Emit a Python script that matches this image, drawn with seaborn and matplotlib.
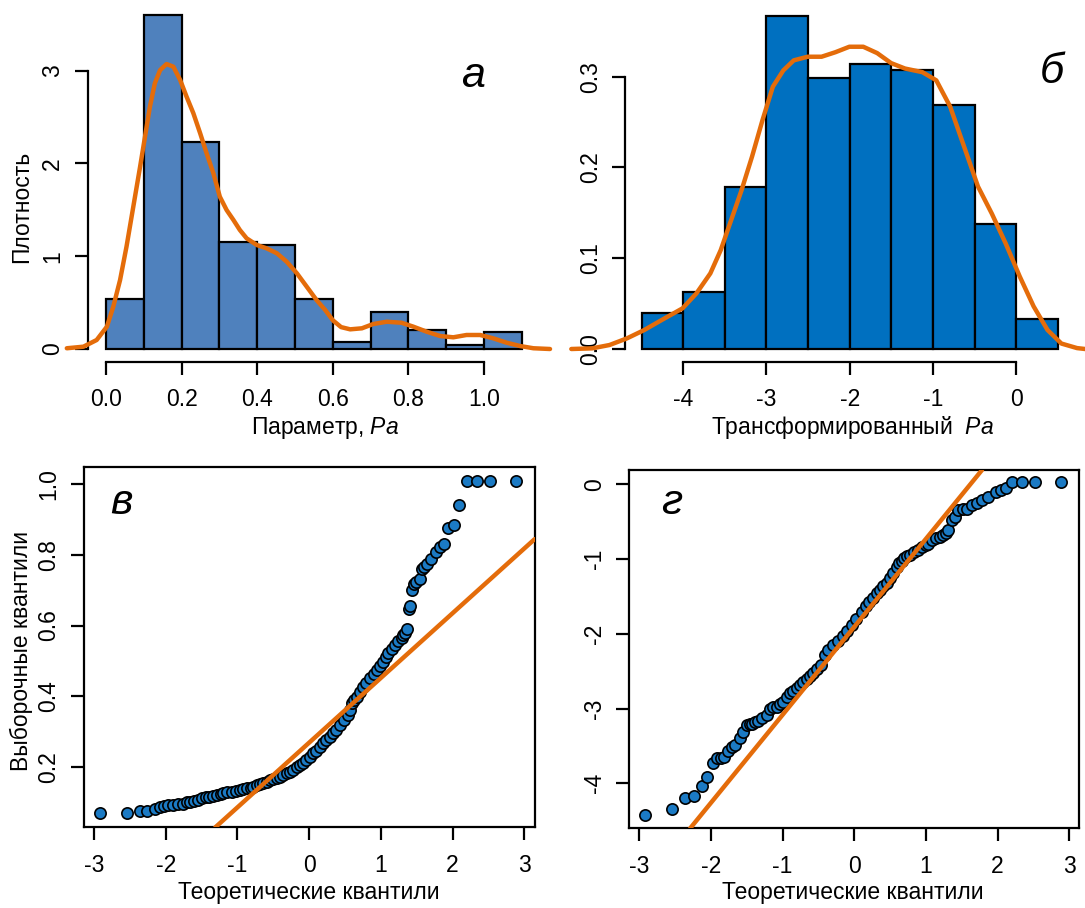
import matplotlib
matplotlib.use("Agg")
import matplotlib.pyplot as plt
import seaborn as sns

# ---------------------------------------------------------------- data
# (а) histogram of the raw parameter Pa, density scale
pa_bin_edges = [0.0, 0.1, 0.2, 0.3, 0.4, 0.5, 0.6, 0.7, 0.8, 0.9, 1.0, 1.1]
pa_density = [0.54, 3.60, 2.23, 1.15, 1.12, 0.54, 0.08, 0.40, 0.21, 0.04, 0.18]

# kernel density estimate of Pa
pa_kde_x = [-0.104, -0.060, -0.025, 0.002, 0.019, 0.037, 0.054, 0.072, 0.090,
            0.103, 0.116, 0.129, 0.143, 0.160, 0.178, 0.196, 0.213, 0.231,
            0.249, 0.266, 0.284, 0.301, 0.319, 0.337, 0.354, 0.372, 0.399,
            0.425, 0.452, 0.478, 0.505, 0.531, 0.557, 0.580, 0.600, 0.622,
            0.646, 0.677, 0.707, 0.743, 0.782, 0.813, 0.849, 0.884, 0.919,
            0.954, 0.990, 1.025, 1.060, 1.096, 1.131, 1.175]
pa_kde_y = [0.008, 0.025, 0.097, 0.240, 0.456, 0.744, 1.103, 1.534, 1.965,
            2.289, 2.612, 2.864, 3.007, 3.072, 3.043, 2.900, 2.720, 2.541,
            2.325, 2.110, 1.894, 1.642, 1.498, 1.391, 1.283, 1.193, 1.121,
            1.085, 1.032, 0.941, 0.816, 0.672, 0.528, 0.420, 0.310, 0.236,
            0.212, 0.223, 0.269, 0.294, 0.283, 0.241, 0.186, 0.140, 0.126,
            0.151, 0.151, 0.115, 0.068, 0.032, 0.008, 0.0]

# (б) histogram of the transformed parameter
tr_bin_edges = [-4.5, -4.0, -3.5, -3.0, -2.5, -2.0, -1.5, -1.0, -0.5, 0.0, 0.5]
tr_density = [0.040, 0.063, 0.178, 0.367, 0.299, 0.314, 0.307, 0.269, 0.138, 0.033]

tr_kde_x = [-5.344, -5.094, -4.885, -4.676, -4.468, -4.259, -4.008, -3.841,
            -3.674, -3.549, -3.424, -3.299, -3.173, -3.048, -2.923, -2.797,
            -2.672, -2.505, -2.338, -2.171, -2.004, -1.837, -1.670, -1.503,
            -1.336, -1.127, -0.960, -0.793, -0.626, -0.459, -0.292, -0.125,
            0.042, 0.209, 0.376, 0.543, 0.731, 0.827, 1.100]
tr_kde_y = [0.0, 0.0007, 0.0044, 0.0117, 0.0209, 0.0319, 0.0448, 0.0613,
            0.0833, 0.109, 0.142, 0.175, 0.212, 0.252, 0.289, 0.307, 0.318,
            0.322, 0.322, 0.327, 0.333, 0.333, 0.326, 0.315, 0.309, 0.305,
            0.296, 0.267, 0.223, 0.179, 0.149, 0.116, 0.080, 0.047, 0.021,
            0.006, 0.001, 0.0, 0.0]

# (в) normal Q-Q plot of Pa
pa_theor = [-2.916, -2.544, -2.358, -2.265, -2.149, -2.080, -2.02, -1.964,
            -1.90, -1.824, -1.76, -1.70, -1.661, -1.60, -1.55, -1.498, -1.44,
            -1.39, -1.336, -1.28, -1.23, -1.197, -1.14, -1.080, -1.02, -0.97,
            -0.918, -0.86, -0.81, -0.778, -0.72, -0.68, -0.639, -0.59, -0.545,
            -0.499, -0.45, -0.40, -0.360, -0.31, -0.26, -0.220, -0.17, -0.127,
            -0.081, -0.04, 0.013, 0.059, 0.10, 0.15, 0.198, 0.24, 0.29, 0.338,
            0.38, 0.431, 0.49, 0.547, 0.57, 0.594, 0.63, 0.664, 0.71, 0.756,
            0.80, 0.849, 0.90, 0.943, 0.99, 1.035, 1.07, 1.105, 1.15, 1.198,
            1.24, 1.29, 1.314, 1.34, 1.361, 1.398, 1.41, 1.440, 1.463, 1.49,
            1.547, 1.570, 1.605, 1.640, 1.700, 1.770, 1.826, 1.881, 1.941,
            2.025, 2.091, 2.198, 2.337, 2.523, 2.886]
pa_sample = [0.068, 0.069, 0.074, 0.074, 0.080, 0.085, 0.088, 0.091, 0.092,
             0.093, 0.095, 0.099, 0.101, 0.104, 0.107, 0.110, 0.113, 0.115,
             0.117, 0.120, 0.123, 0.125, 0.127, 0.129, 0.131, 0.134, 0.136,
             0.139, 0.141, 0.143, 0.147, 0.150, 0.153, 0.157, 0.161, 0.164,
             0.168, 0.172, 0.176, 0.181, 0.186, 0.191, 0.198, 0.206, 0.211,
             0.218, 0.228, 0.238, 0.245, 0.256, 0.266, 0.275, 0.285, 0.295,
             0.305, 0.318, 0.332, 0.347, 0.362, 0.380, 0.390, 0.398, 0.412,
             0.427, 0.438, 0.450, 0.462, 0.474, 0.486, 0.498, 0.510, 0.521,
             0.533, 0.545, 0.556, 0.565, 0.572, 0.580, 0.590, 0.648, 0.655,
             0.700, 0.717, 0.722, 0.731, 0.761, 0.767, 0.774, 0.787, 0.807,
             0.821, 0.832, 0.877, 0.884, 0.941, 1.010, 1.010, 1.010, 1.010]
pa_line_intercept = 0.268
pa_line_slope = 0.1834

# (г) normal Q-Q plot of the transformed parameter
tr_theor = [-2.919, -2.547, -2.361, -2.232, -2.128, -2.059, -1.975, -1.919,
            -1.86, -1.813, -1.757, -1.70, -1.664, -1.594, -1.548, -1.501,
            -1.46, -1.431, -1.38, -1.339, -1.28, -1.222, -1.18, -1.13, -1.082,
            -1.04, -0.99, -0.94, -0.897, -0.85, -0.80, -0.757, -0.71, -0.664,
            -0.62, -0.57, -0.524, -0.47, -0.409, -0.36, -0.293, -0.23, -0.153,
            -0.10, -0.036, 0.03, 0.103, 0.16, 0.21, 0.265, 0.32, 0.358, 0.404,
            0.452, 0.50, 0.544, 0.591, 0.63, 0.661, 0.70, 0.74, 0.777, 0.83,
            0.893, 0.95, 1.00, 1.032, 1.09, 1.144, 1.195, 1.241, 1.28, 1.311,
            1.358, 1.404, 1.451, 1.51, 1.576, 1.64, 1.707, 1.777, 1.869,
            1.976, 2.05, 2.116, 2.195, 2.335, 2.525, 2.88]
tr_sample = [-4.424, -4.34, -4.192, -4.170, -4.036, -3.920, -3.732, -3.666,
             -3.655, -3.644, -3.564, -3.52, -3.488, -3.398, -3.310, -3.215,
             -3.211, -3.205, -3.18, -3.165, -3.13, -3.086, -3.01, -2.985,
             -2.975, -2.945, -2.907, -2.85, -2.796, -2.77, -2.73, -2.685,
             -2.64, -2.600, -2.57, -2.53, -2.47, -2.42, -2.285, -2.22, -2.150,
             -2.10, -2.026, -1.96, -1.882, -1.80, -1.704, -1.63, -1.57, -1.52,
             -1.458, -1.42, -1.36, -1.320, -1.25, -1.191, -1.106, -1.05, -1.02,
             -0.99, -0.965, -0.950, -0.91, -0.875, -0.834, -0.81, -0.794,
             -0.75, -0.722, -0.705, -0.680, -0.65, -0.615, -0.482, -0.437,
             -0.339, -0.33, -0.326, -0.28, -0.250, -0.214, -0.170, -0.106,
             -0.08, -0.045, 0.029, 0.029, 0.029, 0.029]
tr_line_intercept = -1.907
tr_line_slope = 1.178

# axis ticks and labels
pa_xticks = [0.0, 0.2, 0.4, 0.6, 0.8, 1.0]
pa_xticklabels = ["0.0", "0.2", "0.4", "0.6", "0.8", "1.0"]
pa_yticks = [0, 1, 2, 3]
pa_yticklabels = ["0", "1", "2", "3"]
tr_xticks = [-4, -3, -2, -1, 0]
tr_xticklabels = ["-4", "-3", "-2", "-1", "0"]
tr_yticks = [0.0, 0.1, 0.2, 0.3]
tr_yticklabels = ["0.0", "0.1", "0.2", "0.3"]
qq_xticks = [-3, -2, -1, 0, 1, 2, 3]
qq_xticklabels = ["-3", "-2", "-1", "0", "1", "2", "3"]
pa_qq_yticks = [0.2, 0.4, 0.6, 0.8, 1.0]
pa_qq_yticklabels = ["0.2", "0.4", "0.6", "0.8", "1.0"]
tr_qq_yticks = [-4, -3, -2, -1, 0]
tr_qq_yticklabels = ["-4", "-3", "-2", "-1", "0"]

# ---------------------------------------------------------------- style
sns.set_style("ticks")
plt.rcParams["font.family"] = ["Liberation Sans", "DejaVu Sans"]
plt.rcParams["mathtext.fontset"] = "custom"
plt.rcParams["mathtext.rm"] = "Liberation Sans"
plt.rcParams["mathtext.it"] = "Liberation Sans:italic"
plt.rcParams["axes.unicode_minus"] = False

FS = 16.5
LETTER_FS = 31
ORANGE = "#E46C0A"
STEEL = "#4F81BD"
BLUE = "#0070C0"
DOT = "#1B7AC4"
LW_AX = 1.6
TICK_LEN = 9.4
DOT_SIZE = 66

W, H = 1085, 908
fig = plt.figure(figsize=(W / 100, H / 100), dpi=100)
fig.patch.set_facecolor("white")


def place(ax, box, xcal, ycal):
    """Put an axes on a pixel box; xcal/ycal map two data values to pixels."""
    l, t, r, b = box
    ax.set_position([l / W, 1 - b / H, (r - l) / W, (b - t) / H])
    (xv1, xp1), (xv2, xp2) = xcal
    (yv1, yp1), (yv2, yp2) = ycal
    sx = (xv2 - xv1) / (xp2 - xp1)
    sy = (yv2 - yv1) / (yp2 - yp1)
    ax.set_xlim(xv1 + (l - xp1) * sx, xv1 + (r - xp1) * sx)
    ax.set_ylim(yv1 + (b - yp1) * sy, yv1 + (t - yp1) * sy)
    ax.set_facecolor("none")

    def to_data(px=None, py=None):
        if px is not None:
            return xv1 + (px - xp1) * sx
        return yv1 + (py - yp1) * sy

    def to_axes(px, py):
        return (px - l) / (r - l), (b - py) / (b - t)

    return to_data, to_axes


def style_ticks(ax, xt, xtl, yt, ytl, xpad, ypad):
    ax.set_xticks(xt, xtl)
    ax.set_yticks(yt, ytl)
    ax.tick_params(axis="both", direction="out", length=TICK_LEN,
                   width=LW_AX, color="black", labelsize=FS,
                   labelcolor="black")
    ax.tick_params(axis="x", pad=xpad)
    ax.tick_params(axis="y", pad=ypad)
    for lab in ax.get_yticklabels():
        lab.set_rotation(90)
        lab.set_va("center")
        lab.set_ha("right")


def axis_labels(ax, to_axes, xlabel, xpos, ylabel=None, ypos=None):
    ax.set_xlabel(xlabel, fontsize=FS, color="black")
    ax.xaxis.set_label_coords(*to_axes(*xpos))
    ax.xaxis.label.set_va("center")
    if ylabel is not None:
        ax.set_ylabel(ylabel, fontsize=FS, color="black")
        ax.yaxis.set_label_coords(*to_axes(*ypos))
        ax.yaxis.label.set_va("center")
    else:
        ax.set_ylabel("")


def letter(px, py, s):
    fig.text(px / W, 1 - py / H, s, fontsize=LETTER_FS, style="italic",
             ha="center", va="center", color="black")


def centers(edges):
    return [(a + b) / 2 for a, b in zip(edges[:-1], edges[1:])]


# ---------------------------------------------------------------- (а)
ax_a = fig.add_axes([0, 0, 1, 1])
to_data, to_axes = place(ax_a, (60, 5, 556, 356),
                         ((0.0, 106.1), (1.0, 483.9)),
                         ((0.0, 349.0), (3.0, 70.7)))
sns.histplot(x=centers(pa_bin_edges), weights=pa_density, bins=pa_bin_edges,
             stat="count", color=STEEL, alpha=1, edgecolor="black",
             linewidth=1.6, ax=ax_a, zorder=2)
sns.lineplot(x=pa_kde_x, y=pa_kde_y, color=ORANGE, lw=3.2, sort=False,
             estimator=None, ax=ax_a, zorder=3)
for side in ("top", "right"):
    ax_a.spines[side].set_visible(False)
ax_a.spines["left"].set_position(("data", to_data(px=87.5)))
ax_a.spines["bottom"].set_position(("data", to_data(py=361.7)))
ax_a.spines["left"].set_bounds(0, 3)
ax_a.spines["bottom"].set_bounds(0, 1.0)
for side in ("left", "bottom"):
    ax_a.spines[side].set_linewidth(LW_AX)
    ax_a.spines[side].set_color("black")
style_ticks(ax_a, pa_xticks, pa_xticklabels, pa_yticks, pa_yticklabels,
            xpad=9.5, ypad=7.5)
axis_labels(ax_a, to_axes, "Параметр, $\\mathit{Pa}$", (325, 428),
            "Плотность", (21.4, 206.7))
letter(473, 76, "а")

# ---------------------------------------------------------------- (б)
ax_b = fig.add_axes([0, 0, 1, 1])
to_data, to_axes = place(ax_b, (545, 5, 1085, 356),
                         ((-4.0, 683.2), (0.0, 1016.2)),
                         ((0.0, 349.0), (0.3, 76.7)))
sns.histplot(x=centers(tr_bin_edges), weights=tr_density, bins=tr_bin_edges,
             stat="count", color=BLUE, alpha=1, edgecolor="black",
             linewidth=1.6, ax=ax_b, zorder=2)
sns.lineplot(x=tr_kde_x, y=tr_kde_y, color=ORANGE, lw=3.2, sort=False,
             estimator=None, ax=ax_b, zorder=3)
for side in ("top", "right"):
    ax_b.spines[side].set_visible(False)
ax_b.spines["left"].set_position(("data", to_data(px=625.2)))
ax_b.spines["bottom"].set_position(("data", to_data(py=361.7)))
ax_b.spines["left"].set_bounds(0, 0.3)
ax_b.spines["bottom"].set_bounds(-4, 0)
for side in ("left", "bottom"):
    ax_b.spines[side].set_linewidth(LW_AX)
    ax_b.spines[side].set_color("black")
style_ticks(ax_b, tr_xticks, tr_xticklabels, tr_yticks, tr_yticklabels,
            xpad=9.5, ypad=7.5)
axis_labels(ax_b, to_axes, "Трансформированный  $\\mathit{Pa}$", (852.8, 427.5))
letter(1052, 72, "б")

# ---------------------------------------------------------------- (в)
ax_c = fig.add_axes([0, 0, 1, 1])
to_data, to_axes = place(ax_c, (83.9, 467.3, 534.6, 827.3),
                         ((-3.0, 93.9), (3.0, 524.3)),
                         ((0.2, 766.7), (1.0, 484.3)))
sns.scatterplot(x=pa_theor, y=pa_sample, s=DOT_SIZE, color=DOT,
                edgecolor="black", linewidth=1.2, ax=ax_c, zorder=3)
ax_c.axline((0, pa_line_intercept), slope=pa_line_slope, color=ORANGE,
            lw=3.2, zorder=4)
for side in ax_c.spines.values():
    side.set_linewidth(LW_AX)
    side.set_color("black")
style_ticks(ax_c, qq_xticks, qq_xticklabels, pa_qq_yticks, pa_qq_yticklabels,
            xpad=9.5, ypad=7.5)
axis_labels(ax_c, to_axes, "Теоретические квантили", (309, 893),
            "Выборочные квантили", (21.4, 651))
letter(121, 503, "в")

# ---------------------------------------------------------------- (г)
ax_d = fig.add_axes([0, 0, 1, 1])
to_data, to_axes = place(ax_d, (629.3, 470, 1079.4, 828.3),
                         ((-3.0, 639.1), (3.0, 1069.4)),
                         ((0.0, 484.3), (-4.0, 783.3)))
sns.scatterplot(x=tr_theor, y=tr_sample, s=DOT_SIZE, color=DOT,
                edgecolor="black", linewidth=1.2, ax=ax_d, zorder=3)
ax_d.axline((0, tr_line_intercept), slope=tr_line_slope, color=ORANGE,
            lw=3.2, zorder=4)
for side in ax_d.spines.values():
    side.set_linewidth(LW_AX)
    side.set_color("black")
style_ticks(ax_d, qq_xticks, qq_xticklabels, tr_qq_yticks, tr_qq_yticklabels,
            xpad=9.5, ypad=7.5)
axis_labels(ax_d, to_axes, "Теоретические квантили", (853, 893))
letter(672, 503, "г")

fig.savefig("out.png", dpi=100, facecolor="white")
